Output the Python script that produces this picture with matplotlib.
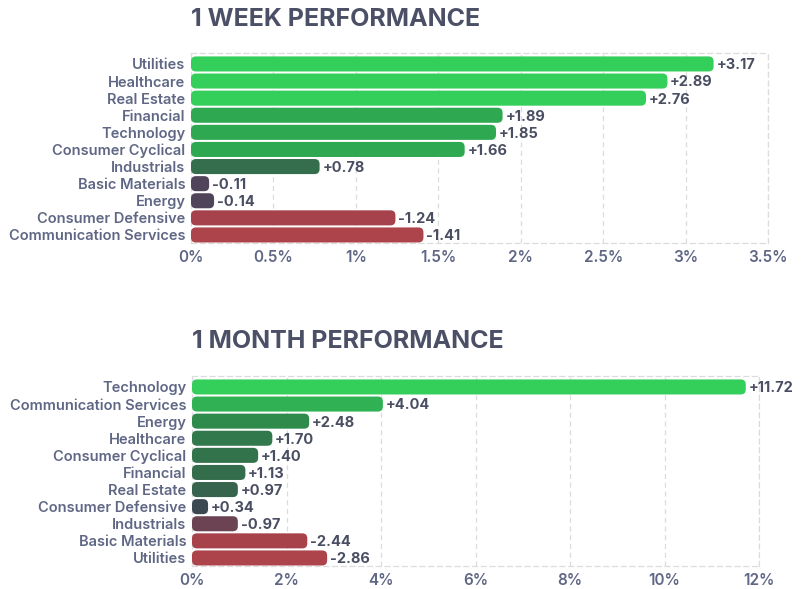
import matplotlib
matplotlib.use("Agg")
import matplotlib.pyplot as plt
from matplotlib.patches import FancyBboxPatch
from matplotlib.ticker import FuncFormatter

plt.rcParams['font.family'] = ['Inter', 'DejaVu Sans']

week_sectors = ['Utilities', 'Healthcare', 'Real Estate', 'Financial', 'Technology',
                'Consumer Cyclical', 'Industrials', 'Basic Materials', 'Energy',
                'Consumer Defensive', 'Communication Services']
week_values = [3.17, 2.89, 2.76, 1.89, 1.85, 1.66, 0.78, -0.11, -0.14, -1.24, -1.41]
week_colors = ['#34ce5b', '#34ce5b', '#34ce5b', '#2ea851', '#2ea851', '#2ea851',
               '#356e4c', '#4f4459', '#4f4459', '#a5424b', '#ad444b']
week_ticks = [0, 0.5, 1, 1.5, 2, 2.5, 3, 3.5]

month_sectors = ['Technology', 'Communication Services', 'Energy', 'Healthcare',
                 'Consumer Cyclical', 'Financial', 'Real Estate', 'Consumer Defensive',
                 'Industrials', 'Basic Materials', 'Utilities']
month_values = [11.72, 4.04, 2.48, 1.70, 1.40, 1.13, 0.97, 0.34, -0.97, -2.44, -2.86]
month_colors = ['#34ce5b', '#30b153', '#2e8b4b', '#31784c', '#33734c', '#346d4c',
                '#36644d', '#3b4852', '#6c4352', '#a7424b', '#ad444b']
month_ticks = [0, 2, 4, 6, 8, 10, 12]

TITLE_C = '#4b5066'
LABEL_C = '#5f6785'
VALUE_C = '#4a4e62'
GRID_C = '#dcdcdc'
W, H = 808, 589


def pct(x, pos):
    return '{:g}%'.format(x)


def panel(rect, title, title_y, sectors, values, colors, ticks):
    ax = fig.add_axes(rect)
    n = len(sectors)
    widths = [abs(v) for v in values]
    bars = ax.barh(range(n), widths, height=0.88, color=colors)
    ax.set_xlim(0, ticks[-1])
    y_lo, y_hi = n - 1 + 0.47, -0.64
    ax.set_ylim(y_lo, y_hi)
    # rounded bars replacing the plain rectangles
    px_w = rect[2] * W
    px_h = rect[3] * H
    xu = ticks[-1] / px_w
    yu = (y_lo - y_hi) / px_h
    aspect = yu / xu
    for b in bars:
        x0, y0 = b.get_x(), b.get_y()
        bw, bh = b.get_width(), b.get_height()
        r = min(5 * xu, bw / 2)
        p = FancyBboxPatch((x0, y0), bw, bh,
                           boxstyle='round,pad=0,rounding_size={}'.format(r),
                           mutation_aspect=aspect, facecolor=b.get_facecolor(),
                           edgecolor='none', zorder=3)
        ax.add_patch(p)
        b.remove()
    for i, v in enumerate(values):
        ax.annotate('{:+.2f}'.format(v), (abs(v), i), xytext=(2, -1),
                    textcoords='offset points', va='center', ha='left',
                    fontsize=10.5, fontweight='bold', color=VALUE_C,
                    annotation_clip=False, zorder=4)
    ax.set_yticks(range(n))
    ax.set_yticklabels(sectors, fontsize=10.5, fontweight='semibold', color=LABEL_C)
    ax.set_xticks(ticks)
    ax.xaxis.set_major_formatter(FuncFormatter(pct))
    for t in ax.get_xticklabels():
        t.set_fontsize(11)
        t.set_fontweight('semibold')
        t.set_color(LABEL_C)
    ax.tick_params(length=0, pad=4)
    ax.tick_params(axis='x', pad=5)
    ax.grid(axis='x', color=GRID_C, linestyle=(0, (4, 3)), linewidth=0.9, zorder=0)
    ax.set_axisbelow(True)
    for s in ax.spines.values():
        s.set_color(GRID_C)
        s.set_linestyle((0, (4, 3)))
        s.set_linewidth(0.9)
    fig.text(rect[0], title_y, title, fontsize=18, fontweight='bold',
             color=TITLE_C, va='center', ha='left')
    return ax


fig = plt.figure(figsize=(W / 100, H / 100), dpi=100)
panel([191 / W, 1 - 243 / H, 577 / W, 190 / H], '1 WEEK PERFORMANCE', 1 - 19 / H,
      week_sectors, week_values, week_colors, week_ticks)
panel([192 / W, 1 - 566 / H, 567 / W, 190 / H], '1 MONTH PERFORMANCE', 1 - 342 / H,
      month_sectors, month_values, month_colors, month_ticks)
fig.savefig('out.png', dpi=100)
